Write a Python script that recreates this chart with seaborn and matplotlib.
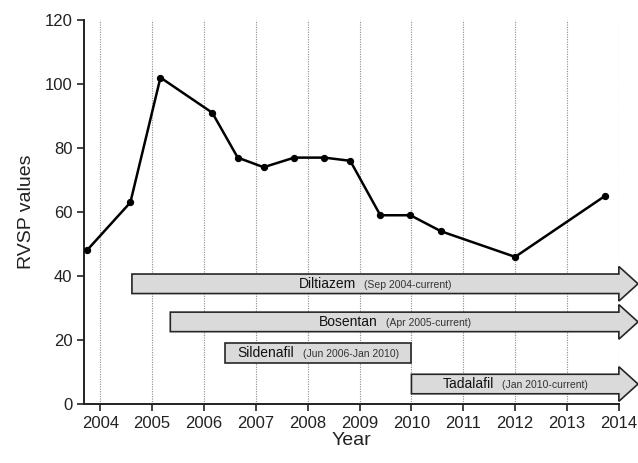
import numpy as np
import pandas as pd
import matplotlib
matplotlib.use('Agg')
import matplotlib.pyplot as plt
import seaborn as sns
from matplotlib.patches import Polygon
from matplotlib.offsetbox import TextArea, HPacker, AnnotationBbox

# ---- data ----
years = [2003.74, 2004.58, 2005.16, 2006.16, 2006.65, 2007.15, 2007.74,
         2008.32, 2008.82, 2009.40, 2009.98, 2010.57, 2012.00, 2013.73]
rvsp = [48, 63, 102, 91, 77, 74, 77, 77, 76, 59, 59, 54, 46, 65]

drugs = ['Diltiazem', 'Bosentan', 'Sildenafil', 'Tadalafil']
periods = ['(Sep 2004-current)', '(Apr 2005-current)',
           '(Jun 2006-Jan 2010)', '(Jan 2010-current)']
drug_start = [2004.61, 2005.35, 2006.41, 2010.0]
drug_end = [2014.0, 2014.0, 2010.0, 2014.0]
drug_ongoing = [True, True, False, True]
drug_level = [37.6, 25.7, 16.0, 6.3]

year_ticks = list(range(2004, 2015))
y_ticks = list(range(0, 121, 20))

df = pd.DataFrame({'Year': years, 'RVSP': rvsp})

# ---- style ----
sns.set_style('white')
plt.rcParams['font.family'] = ['Liberation Sans', 'DejaVu Sans']

fig, ax = plt.subplots(figsize=(6.38, 4.63), dpi=100)
fig.subplots_adjust(left=0.132, right=0.970, bottom=0.127, top=0.957)

ax.set_xlim(2003.69, 2014)
ax.set_ylim(0, 120)
ax.set_xticks(year_ticks)
ax.set_yticks(y_ticks)
ax.xaxis.grid(True, linestyle=(0, (1, 1.2)), color='#8c8c8c', linewidth=0.8)
ax.set_axisbelow(True)

# treatment bars / arrows
half_bar = 3.05
half_head = 5.4
head_len = 0.37
for name, per, s, e, ongoing, yc in zip(drugs, periods, drug_start, drug_end,
                                        drug_ongoing, drug_level):
    if ongoing:
        pts = [(s, yc - half_bar), (e, yc - half_bar), (e, yc - half_head),
               (e + head_len, yc), (e, yc + half_head), (e, yc + half_bar),
               (s, yc + half_bar)]
    else:
        pts = [(s, yc - half_bar), (e, yc - half_bar),
               (e, yc + half_bar), (s, yc + half_bar)]
    ax.add_patch(Polygon(pts, closed=True, facecolor='#dadada',
                         edgecolor='#262626', linewidth=1.2,
                         clip_on=False, zorder=3))
    box = HPacker(children=[
        TextArea(name, textprops=dict(fontsize=10, color='#111111')),
        TextArea(per, textprops=dict(fontsize=7.5, color='#333333'))],
        align='baseline', pad=0, sep=6)
    ab = AnnotationBbox(box, ((s + e) / 2, yc), frameon=False,
                        box_alignment=(0.5, 0.5), zorder=4,
                        annotation_clip=False)
    ax.add_artist(ab)

# RVSP line
sns.lineplot(data=df, x='Year', y='RVSP', ax=ax, color='black',
             linewidth=1.8, marker='o', markersize=4.5,
             markeredgecolor='black', zorder=5)

sns.despine(ax=ax)
for sp in ['left', 'bottom']:
    ax.spines[sp].set_color('#222222')
    ax.spines[sp].set_linewidth(1.4)
ax.tick_params(direction='out', length=5, width=1.2, labelsize=12,
               colors='#222222', left=True, bottom=True)
ax.set_xlabel('Year', fontsize=14, color='#222222', labelpad=1)
ax.set_ylabel('RVSP values', fontsize=14, color='#222222', labelpad=7)

fig.savefig('out.png', dpi=100)
